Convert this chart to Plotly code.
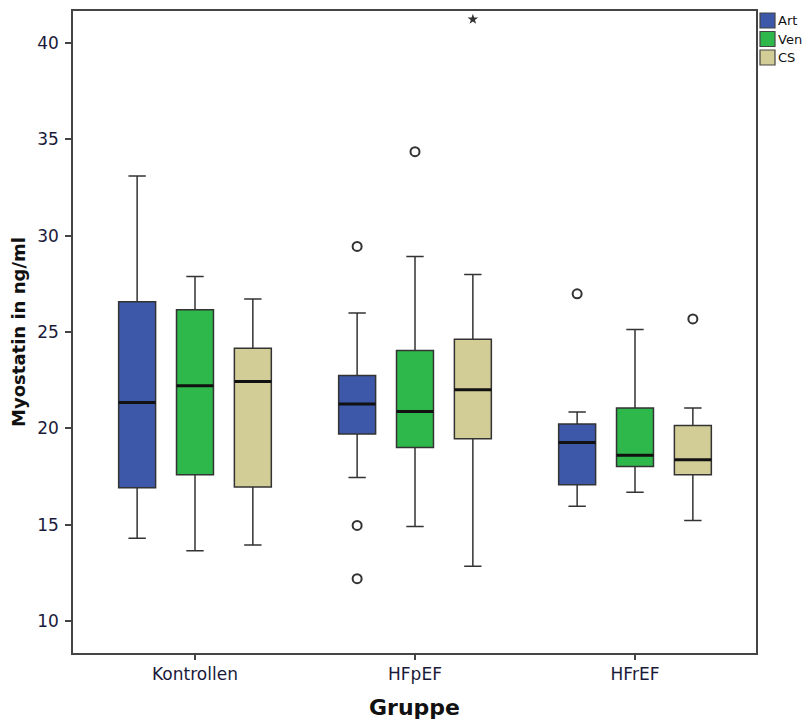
import plotly.graph_objects as go

categories = ["Kontrollen", "HFpEF", "HFrEF"]
series_names = ["Art", "Ven", "CS"]
series_colors = ["#3D57A9", "#2EB84B", "#D2CD96"]

art_lower = [14.29, 17.45, 15.95]
art_q1 = [16.92, 19.70, 17.07]
art_median = [21.34, 21.26, 19.27]
art_q3 = [26.57, 22.74, 20.22]
art_upper = [33.10, 25.98, 20.85]
art_outliers = [[], [29.44, 14.96, 12.20], [26.98]]
art_extremes = [[], [], []]

ven_lower = [13.65, 14.91, 16.68]
ven_q1 = [17.59, 19.01, 18.02]
ven_median = [22.21, 20.88, 18.60]
ven_q3 = [26.15, 24.04, 21.05]
ven_upper = [27.88, 28.92, 25.13]
ven_outliers = [[], [34.36], []]
ven_extremes = [[], [], []]

cs_lower = [13.95, 12.84, 15.22]
cs_q1 = [16.95, 19.46, 17.59]
cs_median = [22.43, 22.00, 18.37]
cs_q3 = [24.16, 24.63, 20.15]
cs_upper = [26.71, 27.98, 21.05]
cs_outliers = [[], [], [25.68]]
cs_extremes = [[], [41.23], []]

y_ticks = [10, 15, 20, 25, 30, 35, 40]

series = [
    (art_lower, art_q1, art_median, art_q3, art_upper, art_outliers, art_extremes),
    (ven_lower, ven_q1, ven_median, ven_q3, ven_upper, ven_outliers, ven_extremes),
    (cs_lower, cs_q1, cs_median, cs_q3, cs_upper, cs_outliers, cs_extremes),
]

SPACING = 0.263
BOX_W = 0.168
FONT = "DejaVu Sans"

# page body has an 8px margin, so the figure is sized 804x712
FIG_W, FIG_H = 804, 712
M_L, M_R, M_T, M_B = 65, 56, 3, 67
PLOT_W = FIG_W - M_L - M_R
PLOT_H = FIG_H - M_T - M_B


def px_to_paper_x(px):
    return (px - M_L) / PLOT_W


def px_to_paper_y(py):
    return 1 - (py - M_T) / PLOT_H


fig = go.Figure()
cat_idx = list(range(len(categories)))

for k, (name, color, data) in enumerate(zip(series_names, series_colors, series)):
    lo, q1, med, q3, up, outl, extr = data
    off = (k - 1) * SPACING
    xs = [i + off for i in cat_idx]
    fig.add_trace(go.Box(
        name=name, x=xs, q1=q1, median=med, q3=q3,
        lowerfence=lo, upperfence=up,
        width=BOX_W, whiskerwidth=0.47,
        fillcolor=color, line=dict(color="#333333", width=1.5),
        boxpoints=False, hoverinfo="skip", showlegend=False,
    ))
    # thick median lines
    mx, my = [], []
    for i, m in zip(cat_idx, med):
        mx += [i + off - BOX_W / 2, i + off + BOX_W / 2, None]
        my += [m, m, None]
    fig.add_trace(go.Scatter(x=mx, y=my, mode="lines",
                             line=dict(color="#111111", width=3),
                             showlegend=False, hoverinfo="skip"))
    ox, oy = [], []
    for i, vals in zip(cat_idx, outl):
        for v in vals:
            ox.append(i + off)
            oy.append(v)
    if ox:
        fig.add_trace(go.Scatter(x=ox, y=oy, mode="markers",
                                 marker=dict(symbol="circle-open", size=9,
                                             color="#333333", line=dict(width=2, color="#333333")),
                                 showlegend=False, hoverinfo="skip"))
    ex, ey = [], []
    for i, vals in zip(cat_idx, extr):
        for v in vals:
            ex.append(i + off)
            ey.append(v)
    if ex:
        fig.add_trace(go.Scatter(x=ex, y=ey, mode="markers",
                                 marker=dict(symbol="star", size=8, color="#333333"),
                                 showlegend=False, hoverinfo="skip"))

# legend (SPSS style: swatches tight against the frame)
LEG_X0, LEG_SW, LEG_Y0, LEG_STEP, LEG_TEXT_X = 752, 15, 5, 18.5, 769
for k, (name, color) in enumerate(zip(series_names, series_colors)):
    y_top = LEG_Y0 + k * LEG_STEP
    fig.add_shape(type="rect", xref="paper", yref="paper",
                  x0=px_to_paper_x(LEG_X0), x1=px_to_paper_x(LEG_X0 + LEG_SW),
                  y0=px_to_paper_y(y_top + LEG_SW), y1=px_to_paper_y(y_top),
                  fillcolor=color, line=dict(color="#444444", width=1.2))
    fig.add_annotation(xref="paper", yref="paper",
                       x=px_to_paper_x(LEG_TEXT_X), y=px_to_paper_y(y_top + LEG_SW / 2),
                       xanchor="left", yanchor="middle", showarrow=False, borderpad=0,
                       text=name, font=dict(size=13, color="#111111", family=FONT))

fig.update_layout(
    width=FIG_W, height=FIG_H,
    margin=dict(l=M_L, r=M_R, t=M_T, b=M_B, autoexpand=False),
    paper_bgcolor="white", plot_bgcolor="white",
    font=dict(family=FONT, color="#222222"),
    showlegend=False,
    xaxis=dict(
        range=[-0.5545, 2.55], tickmode="array", tickvals=cat_idx, ticktext=categories,
        showline=True, linecolor="#444444", linewidth=1.5, mirror=True,
        ticks="outside", ticklen=5, tickcolor="#444444", tickwidth=1.5,
        showgrid=False, zeroline=False,
        tickfont=dict(size=17, color="#1a1a3a"),
        title=dict(text="<b>Gruppe</b>", font=dict(size=22, color="#111111"), standoff=18),
    ),
    yaxis=dict(
        range=[8.34, 41.66], tickmode="array", tickvals=y_ticks,
        showline=True, linecolor="#444444", linewidth=1.5, mirror=True,
        ticks="outside", ticklen=6, tickcolor="#444444", tickwidth=1.5,
        ticklabelstandoff=3,
        showgrid=False, zeroline=False,
        tickfont=dict(size=17, color="#1a1a3a"),
        title=dict(text="<b>Myostatin in ng/ml</b>", font=dict(size=18, color="#111111"), standoff=10),
    ),
)

fig.write_html("out.html")
